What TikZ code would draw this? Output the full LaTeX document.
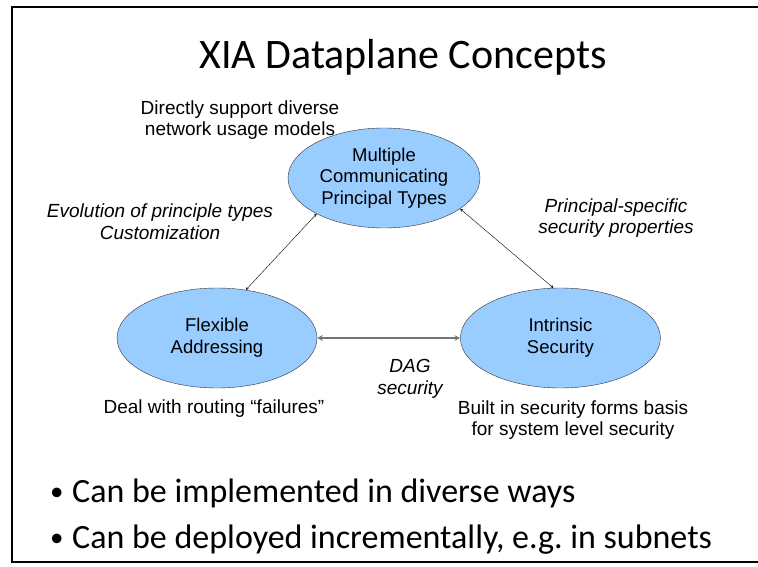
\documentclass[tikz,border=0pt]{standalone}
\usepackage{fontspec}
\setmainfont{Liberation Sans}
\newfontfamily\slidefont{Carlito}
\usetikzlibrary{shapes.geometric,positioning,arrows}
\definecolor{conceptblue}{RGB}{153,204,255}
\frenchspacing
\newcommand{\slidebullet}{\makebox[22pt][l]{\raisebox{1.5pt}{\fontsize{27}{27}\selectfont\textbullet}}}
\tikzset{
    conceptnode/.style={
        ellipse,draw=black!80,fill=conceptblue,minimum width=200pt,minimum height=100pt,inner sep=0pt,align=center,font=\fontsize{18.5}{21.6}\selectfont
    },
    notetext/.style={
        align=center,font=\fontsize{19}{21.6}\selectfont
    },
    italicnote/.style={
        align=center,font=\itshape\fontsize{19}{21.6}\selectfont
    },
    bulletline/.style={
        anchor=base west,inner sep=0pt,font=\slidefont\fontsize{34}{40}\selectfont
    }
}

\begin{document}
\begin{tikzpicture}[x=1pt,y=1pt,>=stealth]
\useasboundingbox (0,0) rectangle (758,566);
\draw[line width=2pt] (770,559) -- (12,559) -- (12,4) -- (770,4);
\node[font=\slidefont\fontsize{42}{50}\selectfont] (title) at (403,509) {XIA Dataplane Concepts};
\node[conceptnode,minimum width=192pt] (mcpt) at (384,388) {Multiple\\Communicating\\Principal Types};
\node[conceptnode] (flex) at (217,228) {Flexible\\Addressing};
\node[conceptnode,right=143pt of flex] (intr) {Intrinsic\\Security};
\node[notetext] (usage) at (240,446) {Directly support diverse\\network usage models};
\node[italicnote] (evol) at (160,344) {Evolution of principle types\\Customization};
\node[italicnote] (pspec) at (616,348) {Principal-specific\\security properties};
\node[italicnote] (dag) at (410,187) {DAG\\security};
\node[notetext] (fail) at (214,157) {Deal with routing “failures”};
\node[notetext] (basis) at (573,146) {Built in security forms basis\\for system level security};
\draw[<->] (mcpt.208) -- (flex.59);
\draw[<->] (mcpt.338) -- (intr.98);
\draw[<->,draw=black!55,line width=1.5pt] (flex) -- (intr);
\node[bulletline] (b1) at (50,64) {\slidebullet Can be implemented in diverse ways};
\node[bulletline] (b2) at (50,18) {\slidebullet Can be deployed incrementally, e.g. in subnets};
\end{tikzpicture}
\end{document}
